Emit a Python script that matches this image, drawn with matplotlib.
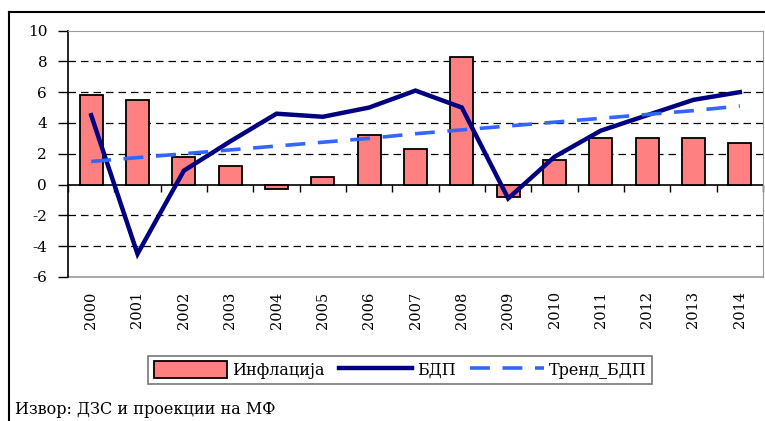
import matplotlib
matplotlib.use("Agg")
import matplotlib.pyplot as plt
from matplotlib.lines import Line2D
import numpy as np

years = ["2000", "2001", "2002", "2003", "2004", "2005", "2006", "2007",
         "2008", "2009", "2010", "2011", "2012", "2013", "2014"]
inflation = [5.8, 5.5, 1.8, 1.2, -0.3, 0.5, 3.2, 2.3, 8.3, -0.8, 1.6, 3.0, 3.0, 3.0, 2.7]
gdp = [4.5, -4.5, 0.9, 2.8, 4.6, 4.4, 5.0, 6.1, 5.0, -0.9, 1.8, 3.5, 4.5, 5.5, 6.0]
gdp_trend = [1.5, 1.75, 2.0, 2.25, 2.5, 2.75, 3.0, 3.3, 3.55, 3.8, 4.05, 4.3, 4.55, 4.8, 5.1]
yticks = [-6, -4, -2, 0, 2, 4, 6, 8, 10]

plt.rcParams["font.family"] = ["DejaVu Serif"]
plt.rcParams["axes.unicode_minus"] = False

W, H = 765, 421
fig = plt.figure(figsize=(W / 100, H / 100), dpi=100)
ax = fig.add_axes([68 / W, 1 - 277 / H, 695 / W, 246.5 / H])

x = np.arange(len(years))
bars = ax.bar(x, inflation, width=0.5, color="#FF8080", edgecolor="black",
              linewidth=1.3, label="Инфлација", zorder=3)
l_gdp, = ax.plot(x, gdp, color="#000080", linewidth=3.2, label="БДП", zorder=4,
                 solid_joinstyle="miter")
l_trend, = ax.plot(x, gdp_trend, color="#3366FF", linewidth=2.6, dashes=(5.5, 3.5),
                   label="Тренд_БДП", zorder=4)

ax.set_xlim(-0.5, len(years) - 0.5)
ax.set_ylim(-6, 10)
ax.set_yticks(yticks)
ax.set_yticklabels([str(v) for v in yticks], fontsize=11)
for v in yticks:
    if v not in (-6, 0, 10):
        ax.axhline(v, color="black", linewidth=0.9, dashes=(6, 4), zorder=1)

# category axis crosses at zero, ticks on category boundaries
ax.spines["bottom"].set_position(("data", 0))
ax.spines["bottom"].set_zorder(2)
ax.set_xticks(np.arange(-0.5, len(years), 1.0))
ax.set_xticklabels([])
ax.tick_params(axis="x", length=5, width=1, direction="out")
ax.tick_params(axis="y", length=7, width=1, direction="out", pad=8)
for s in ("top", "right"):
    ax.spines[s].set_color("#999999")
ax.spines["left"].set_linewidth(1.2)
ax.spines["bottom"].set_linewidth(1.2)
ax.plot([0, 1], [0, 0], transform=ax.transAxes, color="#999999",
        linewidth=1.2, clip_on=False)

for i, yr in enumerate(years):
    ax.text(i, -0.058, yr, transform=ax.get_xaxis_transform(), rotation=90,
            ha="center", va="top", fontsize=10.5)

leg = ax.legend([bars, l_gdp, l_trend], ["Инфлација", "БДП", "Тренд_БДП"],
                loc="center", bbox_to_anchor=(400 / W, 1 - 370 / H),
                bbox_transform=fig.transFigure, ncol=3, frameon=True,
                fancybox=False, edgecolor="#555555", fontsize=11.5,
                handlelength=4.6, handleheight=1.2, handletextpad=0.3,
                columnspacing=0.9, borderpad=0.35, borderaxespad=0)
leg.get_frame().set_linewidth(1.2)

fig.text(15 / W, 1 - 410 / H, "Извор: ДЗС и проекции на МФ",
         fontsize=11.5, va="center", ha="left")

# outer frame (left and top edges visible)
fig.add_artist(Line2D([9 / W, 9 / W], [0, 1 - 12 / H], color="black", linewidth=1.5))
fig.add_artist(Line2D([9 / W, 1], [1 - 12 / H, 1 - 12 / H], color="black", linewidth=1.5))

fig.savefig("out.png", dpi=100)
